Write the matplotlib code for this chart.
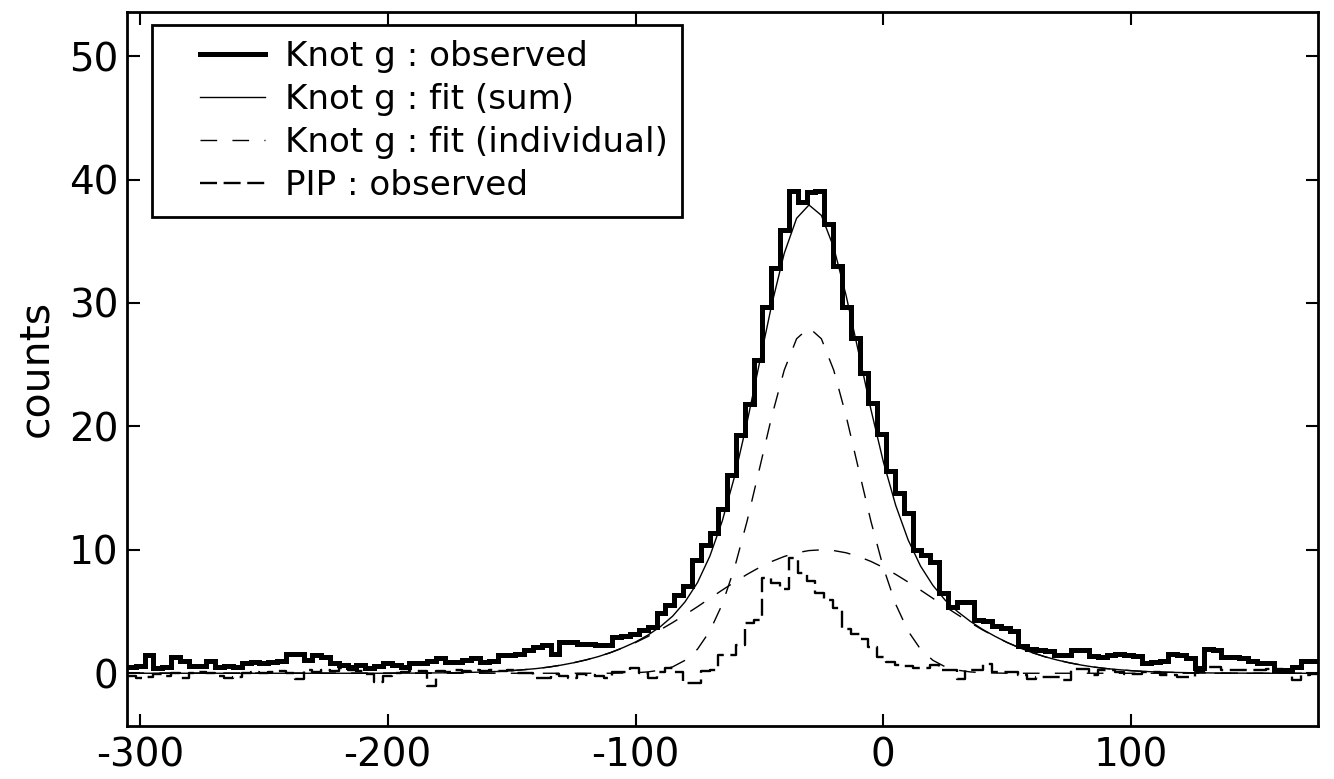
import numpy as np
import matplotlib
matplotlib.use("Agg")
import matplotlib.pyplot as plt
from matplotlib.lines import Line2D
from matplotlib.legend_handler import HandlerLine2D

# ---------------- data ----------------
vel_start = -305.2      # km/s, left edge of first channel
vel_width = 3.5615      # channel width

knot_g_obs = [
    0.5, 0.6, 1.5, 0.4, 0.5, 1.3, 1.0, 0.6, 0.6, 1.0,
    0.5, 0.6, 0.5, 0.8, 0.9, 0.8, 0.9, 1.0, 1.6, 1.6,
    1.1, 1.5, 1.3, 0.8, 0.7, 0.5, 0.7, 0.4, 0.6, 0.8,
    0.7, 0.5, 0.8, 0.8, 1.0, 1.2, 0.9, 0.9, 1.1, 1.2,
    0.9, 1.0, 1.45, 1.45, 1.6, 1.86, 2.1, 2.27, 1.6, 2.5,
    2.5, 2.4, 2.4, 2.3, 2.3, 2.9, 3.0, 3.2, 3.5, 3.75,
    4.9, 5.5, 6.3, 7.1, 9.2, 10.4, 11.4, 13.3, 16.1, 19.3,
    21.8, 25.4, 29.7, 32.8, 35.9, 39.1, 38.2, 39.0, 39.1, 36.4,
    33.0, 29.7, 27.2, 24.3, 21.9, 19.4, 16.4, 14.6, 13.0, 10.0,
    9.6, 9.0, 6.5, 5.4, 5.8, 5.8, 4.3, 4.2, 3.8, 3.7,
    3.4, 2.2, 2.0, 1.9, 1.8, 1.5, 1.5, 1.9, 1.9, 1.4,
    1.3, 1.5, 1.6, 1.5, 1.4, 0.8, 0.9, 1.0, 1.6, 1.5,
    1.2, 0.4, 2.0, 1.9, 1.3, 1.3, 1.2, 1.0, 0.8, 0.8,
    0.3, 0.3, 0.5, 1.0, 1.0,
]

pip_obs = [
    -0.2, -0.4, -0.3, -0.1, -0.2, 0.0, -0.4, 0.0, 0.1, 0.0,
    -0.2, -0.4, -0.3, 0.0, 0.1, 0.0, 0.1, 0.2, 0.0, -0.5,
    0.3, 0.1, 0.3, 0.2, 0.4, 0.3, 0.2, -0.1, -0.7, -0.2,
    0.0, 0.1, 0.2, 0.2, -1.0, 0.2, 0.1, 0.3, 0.2, 0.3,
    0.2, 0.3, 0.2, 0.3, 0.0, 0.0, -0.4, -0.4, -0.1, -0.2,
    -0.4, -0.1, -0.15, -0.2, -0.4, 0.1, 0.1, 0.4, 0.0, -0.4,
    0.1, 0.4, 0.1, -0.8, -0.8, 0.2, 0.3, 1.5, 1.5, 2.3,
    4.1, 4.3, 7.7, 7.3, 6.8, 9.3, 8.1, 7.5, 6.5, 5.9,
    5.3, 3.6, 3.2, 2.8, 2.1, 1.3, 0.9, 0.7, 0.6, 0.4,
    0.4, 0.65, 0.25, 0.25, -0.43, 0.24, 0.24, 0.78, 0.11, 0.11,
    0.11, -0.16, -0.5, -0.3, -0.3, -0.3, -0.57, 0.38, 0.38, -0.16,
    0.24, 0.24, 0.11, -0.03, -0.03, 0.11, 0.11, -0.16, -0.16, -0.3,
    -0.3, 0.11, 0.5, 0.5, 0.24, 0.24, 0.24, 0.24, 0.24, 0.38,
    0.38, 0.11, -0.57, -0.16, -0.03,
]

fit_vel = list(range(-305, 180, 5))

fit_sum = (
    [0.0] * 22 +
    [0.01, 0.01, 0.02, 0.03, 0.04, 0.06, 0.08, 0.11, 0.15, 0.21,
     0.29, 0.38, 0.50, 0.66, 0.85, 1.08, 1.35, 1.68] +
    [2.08, 2.53, 3.09, 3.77, 4.63, 5.79, 7.34, 9.49, 12.33, 15.96,
     20.32, 25.12, 29.89, 34.01, 36.86, 37.94, 37.10, 34.49, 30.59, 26.01,
     21.37, 17.14, 13.60, 10.81, 8.69, 7.12, 5.91, 4.99, 4.22, 3.56,
     3.00] +
    [2.49, 2.06, 1.68, 1.35, 1.08, 0.85, 0.66, 0.50, 0.38, 0.29,
     0.21, 0.15, 0.11, 0.08, 0.06, 0.04, 0.03, 0.02, 0.01, 0.01] +
    [0.0] * 6
)

fit_narrow = (
    [0.0] * 40 +
    [0.02, 0.04, 0.11, 0.25, 0.52, 1.05, 1.95, 3.42, 5.59, 8.57,
     12.31, 16.55, 20.83, 24.55, 27.10, 28.0, 27.10, 24.55, 20.83, 16.55,
     12.31, 8.57, 5.59, 3.42, 1.95, 1.05, 0.52, 0.25, 0.11, 0.04,
     0.02] +
    [0.0] * 26
)

fit_broad = (
    [0.0] * 22 +
    [0.01, 0.01, 0.02, 0.03, 0.04, 0.06, 0.08, 0.11, 0.15, 0.21,
     0.29, 0.38, 0.50, 0.66, 0.85, 1.08, 1.35, 1.68, 2.06, 2.49,
     2.98, 3.52, 4.11, 4.74, 5.39, 6.07, 6.74, 7.39, 8.01, 8.57,
     9.06, 9.46, 9.76, 9.94, 10.0, 9.94, 9.76, 9.46, 9.06, 8.57,
     8.01, 7.39, 6.74, 6.07, 5.39, 4.74, 4.11, 3.52, 2.98, 2.49,
     2.06, 1.68, 1.35, 1.08, 0.85, 0.66, 0.50, 0.38, 0.29, 0.21,
     0.15, 0.11, 0.08, 0.06, 0.04, 0.03, 0.02, 0.01, 0.01] +
    [0.0] * 6
)

x_ticks = [-300, -200, -100, 0, 100]
y_ticks = [0, 10, 20, 30, 40, 50]
legend_labels = ["Knot g : observed", "Knot g : fit (sum)",
                 "Knot g : fit (individual)", "PIP : observed"]

# ---------------- plot ----------------
plt.rcParams['font.family'] = ['DejaVu Sans']
plt.rcParams['axes.unicode_minus'] = False

fig = plt.figure(figsize=(13.34, 7.79), dpi=100)
ax = fig.add_axes([0.0952, 0.0684, 0.988 - 0.0952, 0.985 - 0.0684])

n = len(knot_g_obs)
edges = vel_start + vel_width * np.arange(n + 1)

kg = np.asarray(knot_g_obs)
pp = np.asarray(pip_obs)

ax.step(edges, np.append(kg, kg[-1]), where='post', color='black',
        lw=3.6, solid_joinstyle='miter', label=legend_labels[0], zorder=3)
ax.plot(fit_vel, fit_sum, color='black', lw=1.0, label=legend_labels[1], zorder=4)
ax.plot(fit_vel, fit_narrow, color='black', lw=1.0, dashes=(12, 11),
        label=legend_labels[2], zorder=2)
ax.plot(fit_vel, fit_broad, color='black', lw=1.0, dashes=(12, 11), zorder=2)
ax.step(edges, np.append(pp, pp[-1]), where='post', color='black',
        lw=1.7, dashes=(7.2, 2.8), label=legend_labels[3], zorder=2)

ax.set_xlim(-305.2, 175.4)
ax.set_ylim(-4.25, 53.6)
ax.set_xticks(x_ticks)
ax.set_yticks(y_ticks)
ax.tick_params(direction='in', top=True, right=True, length=9, width=1.5,
               labelsize=28)
ax.tick_params(axis='x', pad=8)
ax.tick_params(axis='y', pad=6)
for s in ax.spines.values():
    s.set_linewidth(2.0)
ax.set_ylabel("counts", fontsize=29.5)
ax.yaxis.set_label_coords(-0.059, 0.5)

leg = ax.legend(loc='upper left', bbox_to_anchor=(0.021, 0.981),
                borderaxespad=0, fontsize=24.6, frameon=True, fancybox=False,
                framealpha=1, edgecolor='black', handlelength=2.885,
                handletextpad=0.585, labelspacing=0.3, borderpad=0.42,
                handler_map={Line2D: HandlerLine2D(xpad=0.99)})
leg.get_frame().set_linewidth(2.0)

fig.savefig("out.png", dpi=100)
